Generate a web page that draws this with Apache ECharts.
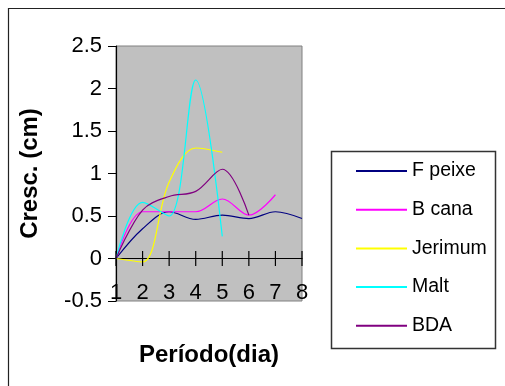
<!DOCTYPE html>
<html>
<head>
<meta charset="utf-8">
<script src="https://cdn.jsdelivr.net/npm/echarts@6/dist/echarts.min.js"></script>
<style>html,body{margin:0;padding:0;background:#fff}#c{width:505px;height:386px}</style>
</head>
<body>
<div id="c"></div>
<script>
const categories = ['1','2','3','4','5','6','7','8'];
const fPeixe  = [0, 0.35, 0.55, 0.46, 0.51, 0.47, 0.55, 0.47];
const bCana   = [0, 0.55, 0.55, 0.55, 0.70, 0.51, 0.75];
const jerimum = [0, -0.04, 0.90, 1.30, 1.25];
const malt    = [0, 0.66, 0.50, 2.10, 0.26];
const bda     = [0, 0.57, 0.73, 0.79, 1.05, 0.51];
const zeroAxisTicks = [0, 0, 0, 0, 0, 0, 0, 0];
const seriesNames = ['F peixe','B cana','Jerimum','Malt','BDA'];
const seriesColors = ['#000080','#ff00ff','#ffff00','#00ffff','#800080'];
const seriesData = [fPeixe, bCana, jerimum, malt, bda];
const yMin = -0.5, yMax = 2.5, yStep = 0.5;

const FONT = "'Liberation Sans', Arial, sans-serif";
const chart = echarts.init(document.getElementById('c'), null, {renderer:'canvas'});
const lineSeries = seriesNames.map((n,i)=>({
  name:n, type:'line', xAxisIndex:0, yAxisIndex:0, data:seriesData[i], smooth:0.35, symbol:'none', z:3,
  lineStyle:{color:seriesColors[i], width:1.2}, itemStyle:{color:seriesColors[i]}
}));
// cross tick marks on the x axis line at y = 0
const tickSeries = {
  name:'_ticks', type:'scatter', xAxisIndex:0, yAxisIndex:0, data:zeroAxisTicks,
  symbol:'rect', symbolSize:[1.2, 15], silent:true, z:4,
  itemStyle:{color:'#000', opacity:1}
};
chart.setOption({
  animation: false,
  backgroundColor: '#ffffff',
  grid: {left:116, right:203, top:46, bottom:85, containLabel:false, outerBoundsMode:'none',
         show:true, backgroundColor:'#c0c0c0', borderColor:'#808080', borderWidth:1},
  legend: {
    orient:'vertical', left:351, top:156, itemWidth:51, itemHeight:2, itemGap:18.7,
    icon:'path://M0,0L51,0L51,2L0,2Z',
    textStyle:{fontFamily:FONT, fontSize:19.5, color:'#000', lineHeight:20},
    data: seriesNames
  },
  xAxis: [{
    type:'category', data:categories, boundaryGap:false, position:'bottom',
    axisLine:{show:false, onZero:false}, axisTick:{show:false},
    axisLabel:{fontFamily:FONT, fontSize:22, color:'#000', margin:-19},
    splitLine:{show:false},
    name:'Período(dia)', nameLocation:'middle', nameGap:42,
    nameTextStyle:{fontFamily:FONT, fontSize:24, fontWeight:'bold', color:'#000'}
  },{
    type:'category', data:categories, boundaryGap:false, position:'bottom',
    axisLine:{show:true, onZero:true, onZeroAxisIndex:1, lineStyle:{color:'#000', width:1.2}},
    axisTick:{show:false}, axisLabel:{show:false}, splitLine:{show:false}
  }],
  yAxis: [{
    type:'value', min:yMin, max:yMax, interval:yStep, position:'left',
    axisLine:{show:true, onZero:false, lineStyle:{color:'#000', width:1.2}},
    axisTick:{show:true, length:8, lineStyle:{color:'#000'}},
    axisLabel:{fontFamily:FONT, fontSize:22, color:'#000', margin:14},
    splitLine:{show:false},
    name:'Cresc. (cm)', nameLocation:'middle', nameGap:74,
    nameTextStyle:{fontFamily:FONT, fontSize:24, fontWeight:'bold', color:'#000'}
  },{
    type:'value', min:yMin, max:yMax, interval:yStep, position:'left',
    axisLine:{show:false, onZero:false}, axisTick:{show:false}, axisLabel:{show:false}, splitLine:{show:false}
  }],
  graphic: [
    {type:'rect', shape:{x:8.5, y:8.5, width:600, height:600}, style:{fill:null, stroke:'#222', lineWidth:1.2}, silent:true, z:-1},
    {type:'rect', shape:{x:331.5, y:151.5, width:164, height:197}, style:{fill:null, stroke:'#333', lineWidth:1.5}, silent:true}
  ],
  series: lineSeries.concat([tickSeries])
});
</script>
</body>
</html>
